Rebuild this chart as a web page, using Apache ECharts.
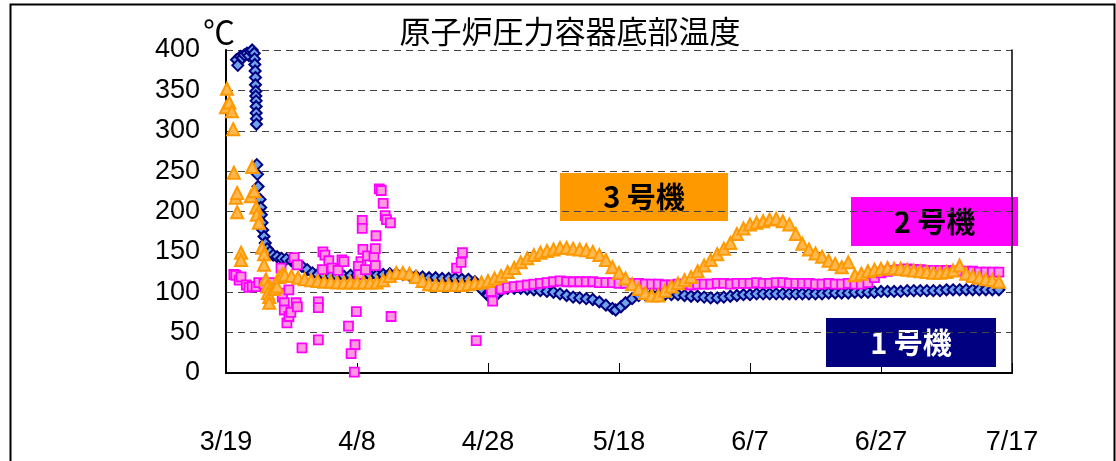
<!DOCTYPE html>
<html>
<head>
<meta charset="utf-8">
<title>原子炉圧力容器底部温度</title>
<script src="https://cdn.jsdelivr.net/npm/echarts@6/dist/echarts.min.js"></script>
<style>
html, body { margin: 0; padding: 0; background: #fff; }
#main { width: 1116px; height: 461px; }
</style>
</head>
<body>
<div id="main"></div>
<script>
// 横軸: 3/19 からの経過日数, 縦軸: ℃
var dateLabels = ['3/19', '4/8', '4/28', '5/18', '6/7', '6/27', '7/17'];

// 1号機 [日, ℃]
var unit1 = [
  [1.6, 388], [1.8, 381], [2.2, 392], [2.5, 390], [2.8, 394], [3.2, 396], [3.5, 393], [3.8, 398], [4.0, 400],
  [4.3, 396], [4.35, 389], [4.4, 382], [4.45, 374], [4.5, 366], [4.5, 357], [4.55, 349], [4.55, 343],
  [4.6, 337], [4.6, 330], [4.6, 322], [4.65, 315], [4.65, 308],
  [4.7, 258], [4.8, 246], [4.9, 231],
  [5.2, 215], [5.3, 205], [5.4, 196], [5.5, 186], [5.6, 177], [5.8, 169], [6.0, 161], [6.3, 154], [6.7, 150],
  [7.2, 146], [7.8, 144], [8.5, 142], [9.2, 141], [10, 139], [10.8, 136], [11.6, 132], [12.4, 128], [13.2, 124],
  [14, 122], [15, 121], [16, 120], [17, 120], [18, 120], [19, 121], [20, 121], [21, 121], [22, 121], [23, 121],
  [24, 122], [25, 123], [26, 123], [27, 122], [28, 121], [29, 120], [30, 119], [31, 118], [32, 118], [33, 117],
  [34, 117], [35, 117], [36, 116], [37, 116], [38, 113], [39, 104], [40, 96], [40.6, 92], [41.2, 96], [42, 102],
  [43, 105], [44, 105], [45, 105], [46, 104], [47, 103], [48, 102], [49, 101], [50, 100], [51, 98], [52, 96],
  [53, 94], [54, 93], [55, 92], [56, 91], [57, 88], [58, 84], [59, 80], [59.5, 78], [60.3, 82], [61, 87],
  [62, 92], [63, 96], [64, 97], [65, 97], [66, 97], [67, 97], [68, 97], [69, 97], [70, 96], [71, 95], [72, 95],
  [73, 94], [74, 93], [75, 93], [76, 94], [77, 95], [78, 96], [79, 97], [80, 97], [81, 98], [82, 98], [83, 98],
  [84, 98], [85, 98], [86, 98], [87, 98], [88, 98], [89, 98], [90, 98], [91, 98], [92, 99], [93, 99], [94, 99],
  [95, 99], [96, 100], [97, 100], [98, 100], [99, 100], [100, 101], [101, 101], [102, 101], [103, 101],
  [104, 102], [105, 102], [106, 102], [107, 102], [108, 102], [109, 102], [110, 103], [111, 103], [112, 103],
  [113, 103], [114, 103], [115, 103], [116, 103], [117, 103], [118, 103]
];

// 2号機 [日, ℃]
var unit2 = [
  [1.2, 122], [1.5, 121], [2.0, 115], [2.3, 119], [3.1, 109], [3.5, 106], [4.0, 107], [4.6, 107], [5.0, 112],
  [5.8, 110], [6.6, 110], [6.9, 112], [7.0, 105], [8.4, 130], [8.6, 99], [8.6, 94], [8.9, 87], [8.9, 78],
  [9.3, 62], [9.6, 70], [9.9, 75], [9.6, 103], [10.4, 143], [10.9, 134], [10.7, 87], [10.9, 82], [11.6, 31],
  [14.1, 88], [14.1, 81], [14.1, 41], [14.8, 150], [15.1, 146], [15.7, 139], [16.2, 130], [17.1, 127],
  [17.7, 140], [18.0, 138], [14.7, 128], [18.7, 58], [19.9, 76], [19.7, 35], [19.1, 24], [19.6, 1],
  [20.8, 189], [20.8, 179], [20.9, 153], [20.6, 138], [20.2, 132], [20.3, 122], [21.3, 128], [21.6, 145],
  [22.6, 144], [22.8, 154], [22.8, 133], [22.9, 170], [23.4, 228], [23.7, 226], [24.0, 210], [24.3, 195],
  [24.5, 190], [25.1, 186], [25.2, 70], [35.2, 130], [35.9, 137], [36.1, 149], [38.2, 40], [40.5, 101], [40.7, 89],
  [42, 104], [43, 106], [44, 107], [45, 108], [46, 109], [47, 110], [48, 111], [49, 112], [50, 113], [51, 114],
  [52, 113], [53, 113], [54, 113], [55, 113], [56, 113], [57, 112], [58, 112], [59, 112], [60, 111], [61, 111],
  [62, 111], [63, 111], [64, 110], [65, 110], [66, 110], [67, 109], [68, 109], [69, 110], [70, 110], [71, 109],
  [72, 110], [73, 110], [74, 110], [75, 111], [76, 111], [77, 110], [78, 111], [79, 111], [80, 111], [81, 112],
  [82, 111], [83, 111], [84, 112], [85, 112], [86, 111], [87, 111], [88, 111], [89, 111], [90, 110], [91, 110],
  [92, 111], [93, 110], [94, 110], [95, 111], [96, 110], [97, 110], [98, 112], [99, 118], [100, 124],
  [101, 126], [102, 127], [103, 128], [104, 129], [105, 128], [106, 128], [107, 127], [108, 127], [109, 127],
  [110, 127], [111, 126], [112, 126], [113, 126], [114, 126], [115, 125], [116, 125], [117, 125], [118, 125]
];

// 3号機 [日, ℃]
var unit3 = [
  [0.15, 352], [0.0, 329], [0.5, 335], [0.9, 324], [1.1, 302], [1.2, 248], [1.5, 217], [1.7, 223], [1.7, 199],
  [2.3, 149], [2.3, 140], [3.8, 219], [4.0, 255], [4.3, 225], [4.6, 205], [4.7, 196], [5.0, 186], [5.5, 155],
  [5.8, 147], [5.8, 134], [6.1, 116], [6.3, 107], [6.4, 99], [6.6, 94], [6.6, 87], [7.3, 104], [7.8, 107],
  [8.1, 119], [8.6, 122],
  [9, 121], [10, 120], [11, 118], [12, 116], [13, 115], [14, 114], [15, 113], [16, 113], [17, 112], [18, 112],
  [19, 112], [20, 112], [21, 112], [22, 112], [23, 112], [24, 115], [25, 120], [26, 124], [27, 124], [28, 123],
  [29, 119], [30, 114], [31, 110], [32, 109], [33, 109], [34, 109], [35, 109], [36, 109], [37, 110], [38, 111],
  [39, 112], [40, 114], [41, 117], [42, 120], [43, 125], [44, 130], [45, 137], [46, 142], [47, 146], [48, 149],
  [49, 151], [50, 153], [51, 155], [52, 155], [53, 154], [54, 153], [55, 152], [56, 150], [57, 146], [58, 140],
  [59, 131], [60, 124], [61, 117], [62, 110], [63, 104], [64, 99], [65, 96], [66, 96], [67, 102], [68, 107],
  [69, 111], [70, 115], [71, 119], [72, 126], [73, 133], [74, 140], [75, 147], [76, 154], [77, 161], [78, 172],
  [79, 179], [80, 184], [81, 186], [82, 188], [83, 190], [84, 191], [85, 188], [86, 184], [87, 172], [88, 160],
  [89, 153], [90, 148], [91, 144], [92, 139], [93, 135], [94, 131], [95, 137], [96, 121], [97, 123], [98, 126],
  [99, 128], [100, 129], [101, 130], [102, 129], [103, 129], [104, 128], [105, 127], [106, 126], [107, 125],
  [108, 124], [109, 124], [110, 125], [111, 127], [112, 133], [113, 123], [114, 120], [115, 118], [116, 116],
  [117, 115], [118, 113]
];

var fontJP = '"Noto Sans CJK JP", sans-serif';
var fontNum = '"Liberation Sans", Arial, sans-serif';

var myChart = echarts.init(document.getElementById('main'));

function unitBox(x, y, w, h, fill, textColor, label) {
  return {
    type: 'group',
    left: x,
    top: y,
    z: 100,
    children: [
      { type: 'rect', shape: { x: 0, y: 0, width: w, height: h }, style: { fill: fill } },
      {
        type: 'text', x: w / 2, y: h / 2,
        style: { text: label, fill: textColor, font: 'bold 29px ' + fontJP, align: 'center', verticalAlign: 'middle' }
      }
    ]
  };
}

var option = {
  animation: false,
  backgroundColor: '#fff',
  grid: { left: 226, right: 104, top: 50, bottom: 88 },
  xAxis: {
    type: 'value',
    min: 0,
    max: 120,
    interval: 20,
    axisLine: { lineStyle: { color: '#000', width: 2 } },
    axisTick: { inside: true, length: 10, lineStyle: { color: '#000', width: 1 } },
    axisLabel: {
      color: '#000', fontSize: 27, fontFamily: fontNum, margin: 56,
      formatter: function (v) { return dateLabels[Math.round(v / 20)]; }
    },
    splitLine: { show: false }
  },
  yAxis: [
    {
      type: 'value',
      min: 0,
      max: 400,
      interval: 50,
      axisLine: { show: true, lineStyle: { color: '#000', width: 2 } },
      axisTick: { show: false },
      axisLabel: { color: '#000', fontSize: 27, fontFamily: fontNum, margin: 26 },
      splitLine: { lineStyle: { color: '#444', type: [7, 5], width: 1 } }
    },
    {
      type: 'value',
      position: 'right',
      min: 0,
      max: 400,
      interval: 50,
      axisLine: { show: true, lineStyle: { color: '#000', width: 1.5 } },
      axisTick: { show: false },
      axisLabel: { show: false },
      splitLine: { show: false }
    }
  ],
  series: [
    {
      name: '1号機', type: 'scatter', data: unit1, symbol: 'diamond', symbolSize: 11,
      itemStyle: { color: '#6fa4ea', borderColor: '#000080', borderWidth: 2, opacity: 1 }
    },
    {
      name: '2号機', type: 'scatter', data: unit2, symbol: 'rect', symbolSize: 9,
      itemStyle: { color: '#ff99dd', borderColor: '#ff00ff', borderWidth: 1.8, opacity: 1 }
    },
    {
      name: '3号機', type: 'scatter', data: unit3, symbol: 'triangle', symbolSize: 12,
      itemStyle: { color: '#ffb850', borderColor: '#ff9900', borderWidth: 2, opacity: 1 }
    }
  ],
  graphic: [
    { type: 'rect', left: 8, top: 2, z: -10, shape: { width: 1104, height: 470 }, style: { fill: 'none', stroke: '#000', lineWidth: 2 } },
    { type: 'text', x: 570, y: 31, style: { text: '原子炉圧力容器底部温度', fill: '#000', font: '31px ' + fontJP, align: 'center', verticalAlign: 'middle' } },
    { type: 'text', x: 219, y: 32, style: { text: '℃', fill: '#000', font: '32px ' + fontJP, align: 'center', verticalAlign: 'middle' } },
    unitBox(560, 173, 168, 48, '#ff9900', '#000', '3 号機'),
    unitBox(851, 197, 167, 49, '#ff00ff', '#000', '2 号機'),
    unitBox(826, 318, 170, 49, '#000080', '#fff', '1 号機')
  ]
};

myChart.setOption(option);
</script>
</body>
</html>
